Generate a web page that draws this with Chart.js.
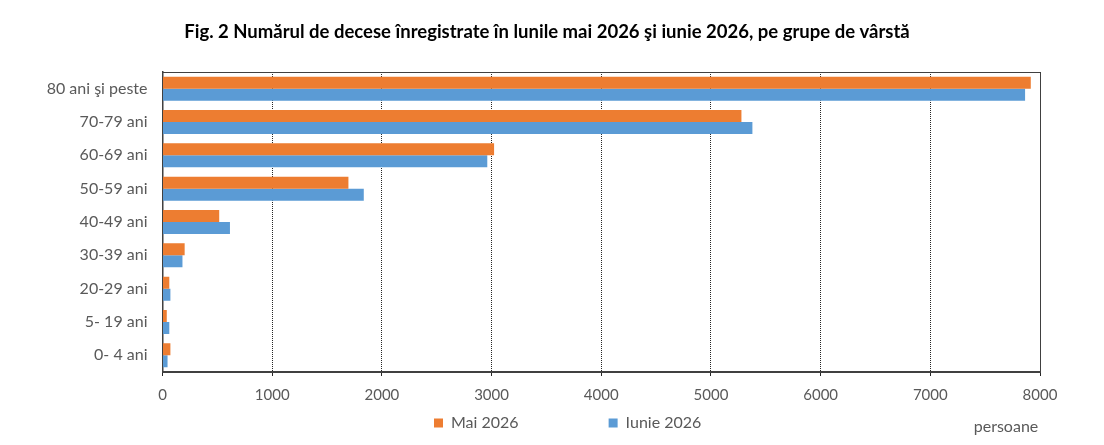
<!DOCTYPE html>
<html>
<head>
<meta charset="utf-8">
<script src="https://cdn.jsdelivr.net/npm/chart.js@4.4.0/dist/chart.umd.min.js"></script>
<style>
  html, body { margin: 0; padding: 0; background: #fff; }
  #wrap { width: 1104px; height: 445px; }
</style>
</head>
<body>
<div id="wrap"><canvas id="canvas"></canvas></div>
<script>
// Date (persoane)
var GRUPE = ['80 ani şi peste', '70-79 ani', '60-69 ani', '50-59 ani', '40-49 ani',
             '30-39 ani', '20-29 ani', '5- 19 ani', '0- 4 ani'];
var MAI_2026 = [7916, 5278, 3023, 1695, 517, 202, 62, 39, 72];
var IUNIE_2026 = [7864, 5378, 2961, 1835, 615, 182, 72, 62, 46];
var TITLU = 'Fig. 2 Numărul de decese înregistrate în lunile mai 2026 şi iunie 2026, pe grupe de vârstă';

var FONT = 'Lato, "Open Sans", sans-serif';
var GRI = '#595959';
var PAD_LEGENDA = 90;

// titlul, rama si eticheta "persoane" desenate pe canvas
var extra = {
  id: 'extra',
  afterLayout: function(chart) {
    // legenda mutata sub grafic, ca in original
    var L = chart.legend;
    L.left = 434 - PAD_LEGENDA;
    L.right = 1104;
    L.top = 415 - PAD_LEGENDA;
  },
  afterDraw: function(chart) {
    var ctx = chart.ctx, a = chart.chartArea;
    ctx.save();
    ctx.strokeStyle = '#404040';
    ctx.lineWidth = 1;
    ctx.beginPath();
    ctx.moveTo(a.left, a.top + 0.5);
    ctx.lineTo(a.right + 0.5, a.top + 0.5);
    ctx.lineTo(a.right + 0.5, a.bottom);
    ctx.stroke();

    ctx.fillStyle = '#000';
    ctx.font = 'bold 18.5px ' + FONT;
    ctx.textAlign = 'center';
    ctx.textBaseline = 'middle';
    ctx.fillText(TITLU, 547, 32);

    ctx.fillStyle = GRI;
    ctx.font = '16px ' + FONT;
    ctx.fillText('persoane', 1006, 427);
    ctx.restore();
  }
};

var ctx = document.getElementById('canvas').getContext('2d');
window.myBar = new Chart(ctx, {
  type: 'bar',
  data: {
    labels: GRUPE,
    datasets: [{
      label: 'Mai 2026',
      data: MAI_2026,
      backgroundColor: '#ED7D31',
      borderWidth: 0
    }, {
      label: 'Iunie 2026',
      data: IUNIE_2026,
      backgroundColor: '#5B9BD5',
      borderWidth: 0
    }]
  },
  plugins: [extra],
  options: {
    indexAxis: 'y',
    responsive: true,
    maintainAspectRatio: false,
    animation: false,
    layout: { padding: { top: 72, left: 0, right: 64, bottom: 0 } },
    datasets: { bar: { categoryPercentage: 0.72, barPercentage: 1 } },
    scales: {
      x: {
        min: 0,
        max: 8000,
        ticks: {
          stepSize: 1000, color: GRI, font: { family: FONT, size: 15 }, padding: 10,
          callback: function(v) { return String(v); }
        },
        grid: { color: '#262626', lineWidth: 1, tickLength: 4 },
        border: { color: '#404040', width: 2, dash: [1, 1] },
        afterFit: function(s) { s.height = 42; }
      },
      y: {
        ticks: { color: GRI, font: { family: FONT, size: 16 }, padding: 15 },
        grid: { display: false, drawTicks: false },
        border: { color: '#404040', width: 1.5 },
        afterFit: function(s) { s.width = 162.5; }
      }
    },
    plugins: {
      title: { display: false },
      tooltip: { enabled: false },
      legend: {
        position: 'bottom',
        align: 'start',
        maxHeight: 31,
        labels: {
          boxWidth: 9,
          boxHeight: 9,
          padding: PAD_LEGENDA,
          color: GRI,
          font: { family: FONT, size: 16 }
        }
      }
    }
  }
});
</script>
</body>
</html>
